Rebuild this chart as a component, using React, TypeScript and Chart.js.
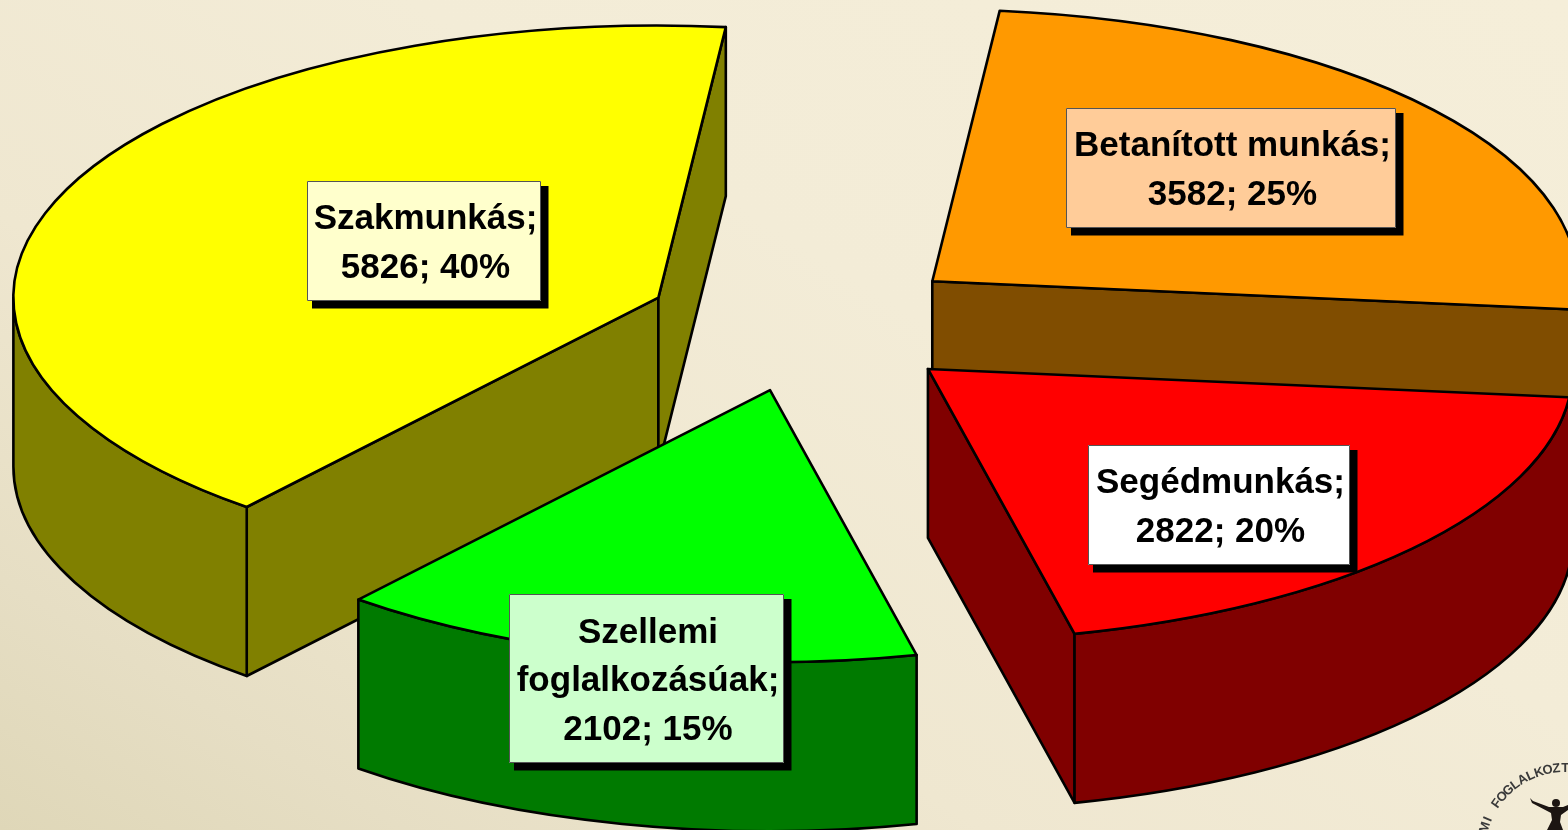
import React, { useEffect, useRef } from "react";
import { Chart, registerables } from "chart.js";

Chart.register(...registerables);

const categories = ["Szakmunkás", "Betanított munkás", "Segédmunkás", "Szellemi foglalkozásúak"];
const values = [5826, 3582, 2822, 2102];
const percents = [40, 25, 20, 15];
const topColors = ["#ffff00", "#ff9900", "#ff0000", "#00ff00"];
const wallColors = ["#808000", "#804d00", "#800000", "#007a00"];
const boxColors = ["#ffffcc", "#ffcc99", "#ffffff", "#ccffcc"];
const labelNames = [["Szakmunkás;"], ["Betanított munkás;"], ["Segédmunkás;"], ["Szellemi", "foglalkozásúak;"]];

const W = 1568;
const H = 830;
const RADIUS = 645;
const SQUASH = 272 / 645;
const EXPLODE = 0.25; // share of the radius every slice is pulled out by
const DEPTH = 169;
const ROTATION = -140.34;
const LINE = 2.6;
const labelBoxes = [
  { x: 307, y: 181, w: 234, h: 120 },
  { x: 1066, y: 108, w: 330, h: 120 },
  { x: 1088, y: 445, w: 262, h: 120 },
  { x: 509, y: 594, w: 275, h: 169 },
];

function midY(chart: any) {
  return (chart.chartArea.top + chart.chartArea.bottom) / 2;
}

function geom(arc: any, cy0: number) {
  const mid = (arc.startAngle + arc.endAngle) / 2;
  const cx = arc.x;
  const cy = cy0 + SQUASH * (arc.y - cy0);
  const R = arc.outerRadius;
  const pt = (t: number) => [cx + R * Math.cos(t), cy + SQUASH * R * Math.sin(t)];
  return { mid, cx, cy, R, pt, start: arc.startAngle, end: arc.endAngle };
}

function style(ctx: CanvasRenderingContext2D, fill: string) {
  ctx.fillStyle = fill;
  ctx.strokeStyle = "#000";
  ctx.lineWidth = LINE;
  ctx.lineJoin = "round";
}

const pie3d = {
  id: "pie3d",
  afterDatasetsUpdate(chart: any) {
    chart.getDatasetMeta(0).data.forEach((arc: any) => {
      const mid = (arc.startAngle + arc.endAngle) / 2;
      arc.x += Math.cos(mid) * EXPLODE * arc.outerRadius;
      arc.y += Math.sin(mid) * EXPLODE * arc.outerRadius;
    });
  },
  beforeDatasetsDraw(chart: any) {
    const ctx: CanvasRenderingContext2D = chart.ctx;
    const cy0 = midY(chart);
    const arcs = chart.getDatasetMeta(0).data;
    arcs.forEach((arc: any, i: number) => {
      const g = geom(arc, cy0);
      style(ctx, wallColors[i]);
      const inner = g.pt(g.mid);
      const mx = inner[0] - g.cx;
      const my = inner[1] - g.cy;
      [g.start, g.end].forEach((t) => {
        const p = g.pt(t);
        const dx = p[0] - g.cx;
        const dy = p[1] - g.cy;
        // A side is seen when the extrusion leaves on the other side of the edge from the slice.
        const a = dx * my - dy * mx;
        const b = dx * 1;
        if (a * b < 0) {
          ctx.beginPath();
          ctx.moveTo(g.cx, g.cy);
          ctx.lineTo(p[0], p[1]);
          ctx.lineTo(p[0], p[1] + DEPTH);
          ctx.lineTo(g.cx, g.cy + DEPTH);
          ctx.closePath();
          ctx.fill();
          ctx.stroke();
        }
      });
      for (let n = -2; n <= 1; n++) {
        const a0 = Math.max(g.start, n * 2 * Math.PI);
        const a1 = Math.min(g.end, n * 2 * Math.PI + Math.PI);
        if (a1 > a0) {
          ctx.beginPath();
          ctx.ellipse(g.cx, g.cy, g.R, g.R * SQUASH, 0, a0, a1);
          ctx.ellipse(g.cx, g.cy + DEPTH, g.R, g.R * SQUASH, 0, a1, a0, true);
          ctx.closePath();
          ctx.fill();
          ctx.stroke();
        }
      }
    });
    ctx.save();
    ctx.translate(0, cy0);
    ctx.scale(1, SQUASH);
    ctx.translate(0, -cy0);
  },
  afterDatasetsDraw(chart: any) {
    const ctx: CanvasRenderingContext2D = chart.ctx;
    ctx.restore();
    const cy0 = midY(chart);
    chart.getDatasetMeta(0).data.forEach((arc: any) => {
      const g = geom(arc, cy0);
      style(ctx, "transparent");
      ctx.beginPath();
      ctx.moveTo(g.cx, g.cy);
      ctx.ellipse(g.cx, g.cy, g.R, g.R * SQUASH, 0, g.start, g.end);
      ctx.closePath();
      ctx.stroke();
    });
  },
  afterDraw(chart: any) {
    const ctx: CanvasRenderingContext2D = chart.ctx;
    // Value labels
    categories.forEach((_, i) => {
      const b = labelBoxes[i];
      ctx.fillStyle = "#000";
      ctx.fillRect(b.x + 5, b.y + 5, b.w + 2.5, b.h + 2.5);
      ctx.fillStyle = boxColors[i];
      ctx.fillRect(b.x, b.y, b.w, b.h);
      ctx.strokeStyle = "#555";
      ctx.lineWidth = 1;
      ctx.strokeRect(b.x + 0.5, b.y + 0.5, b.w - 1, b.h - 1);
      const lines = [...labelNames[i], `${values[i]}; ${percents[i]}%`];
      ctx.fillStyle = "#000";
      ctx.font = "bold 35px 'Liberation Sans', Arial, sans-serif";
      ctx.textAlign = "center";
      ctx.textBaseline = "middle";
      const step = 48.5;
      const top = b.y + b.h / 2 - ((lines.length - 1) * step) / 2 + 3;
      lines.forEach((l, k) => ctx.fillText(l, b.x + b.w / 2 + 1.5, top + k * step));
    });
    // Corner logo
    const lx = 1565;
    const ly = 852;
    const text = "MI FOGLALKOZT";
    ctx.fillStyle = "#3a3a3a";
    ctx.font = "bold 13px 'Liberation Sans', Arial, sans-serif";
    ctx.textAlign = "center";
    ctx.textBaseline = "alphabetic";
    [...text].forEach((c, k) => {
      const ang = ((197 + k * 6.1) * Math.PI) / 180;
      ctx.save();
      ctx.translate(lx + 80 * Math.cos(ang), ly + 80 * Math.sin(ang));
      ctx.rotate(ang + Math.PI / 2);
      ctx.fillText(c, 0, 0);
      ctx.restore();
    });
    ctx.fillStyle = "#1c1512";
    ctx.beginPath();
    ctx.arc(1556, 803, 4, 0, Math.PI * 2);
    ctx.fill();
    ctx.beginPath();
    ctx.moveTo(1530, 798);
    ctx.lineTo(1533, 801);
    ctx.lineTo(1549, 807);
    ctx.lineTo(1563, 807);
    ctx.lineTo(1568, 805);
    ctx.lineTo(1568, 810);
    ctx.lineTo(1561, 815);
    ctx.lineTo(1560, 822);
    ctx.lineTo(1563, 830);
    ctx.lineTo(1547, 830);
    ctx.lineTo(1552, 820);
    ctx.lineTo(1551, 813);
    ctx.lineTo(1532, 803);
    ctx.closePath();
    ctx.fill();
  },
};

export default function App() {
  const ref = useRef<HTMLCanvasElement | null>(null);
  useEffect(() => {
    const chart = new Chart(ref.current as HTMLCanvasElement, {
      type: "pie",
      data: {
        labels: categories,
        datasets: [
          {
            data: values,
            backgroundColor: topColors,
            borderWidth: 0,
            radius: RADIUS,
            clip: false,
          } as any,
        ],
      },
      options: {
        responsive: false,
        animation: false,
        devicePixelRatio: 1,
        rotation: ROTATION,
        events: [],
        layout: { padding: { left: 46, right: 0, top: 0, bottom: 182 } },
        plugins: { legend: { display: false }, tooltip: { enabled: false } },
      } as any,
      plugins: [pie3d as any],
    });
    return () => chart.destroy();
  }, []);
  return (
    <div
      style={{
        position: "fixed",
        left: 0,
        top: 0,
        width: W,
        height: H,
        overflow: "hidden",
        background:
          "linear-gradient(32deg, #dfd7b8 0%, #e6dec4 14%, #efe7d0 34%, #f3ecd7 60%, #f5eed9 100%)",
      }}
    >
      <canvas ref={ref} width={W} height={H} style={{ display: "block", width: W, height: H }} />
    </div>
  );
}
